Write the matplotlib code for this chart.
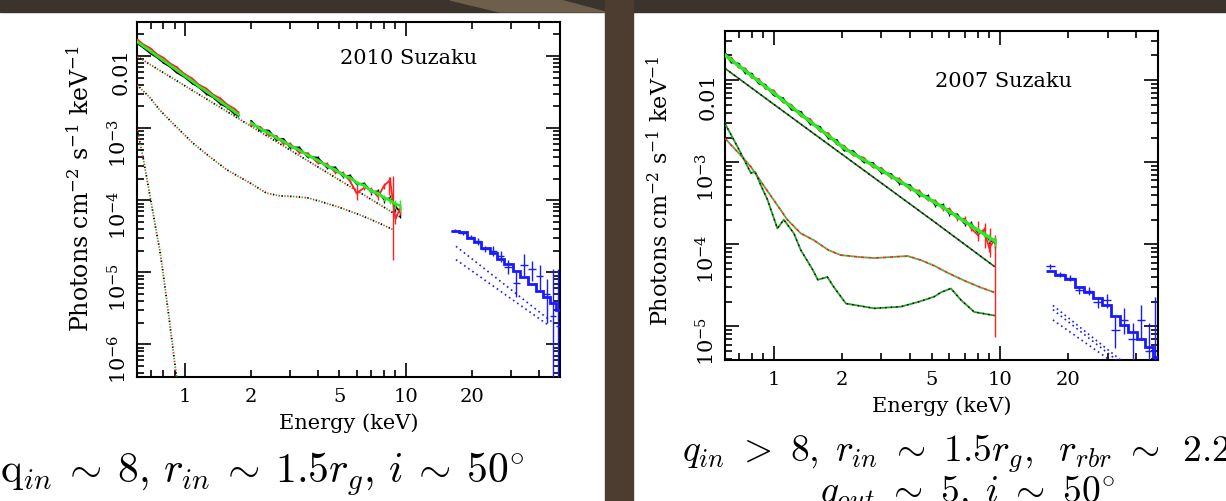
import matplotlib.pyplot as plt
from matplotlib.patches import Rectangle, Polygon
from matplotlib.ticker import FixedLocator, FuncFormatter, NullFormatter, LogLocator
import numpy as np

plt.rcParams['font.family'] = ['DejaVu Serif']
plt.rcParams['mathtext.fontset'] = 'dejavuserif'

W, H = 1226, 501

RED = '#ff2020'
GREEN = '#22ee22'
BLUE = '#1a1aff'

# ---------------- 2010 Suzaku (left) ----------------
e10_lo = [0.61, 0.65, 0.70, 0.75, 0.80, 0.86, 0.92, 1.00, 1.08, 1.16, 1.25, 1.35, 1.45, 1.56, 1.68, 1.75]
g10_lo = [0.0158, 0.0137, 0.0117, 0.0100, 0.0087, 0.0074, 0.0064, 0.0053, 0.0045, 0.0038, 0.00326, 0.00275,
          0.00235, 0.00200, 0.00170, 0.00155]
r10_lo = [0.0170, 0.0145, 0.0128, 0.0106, 0.0095, 0.0079, 0.0070, 0.0056, 0.0049, 0.0040, 0.00356, 0.00290,
          0.00258, 0.00212, 0.00186, 0.00166]
k10_lo = [0.0150, 0.0131, 0.0109, 0.0096, 0.0081, 0.0071, 0.0059, 0.0051, 0.0042, 0.0037, 0.00302, 0.00266,
          0.00218, 0.00194, 0.00158, 0.00150]
err10_lo = [0.02, 0.02, 0.02, 0.02, 0.02, 0.02, 0.025, 0.025, 0.025, 0.03, 0.03, 0.03, 0.035, 0.035, 0.04, 0.04]

e10_hi = [2.0, 2.2, 2.4, 2.6, 2.8, 3.0, 3.3, 3.6, 4.0, 4.4, 4.8, 5.2, 5.6, 6.0, 6.5, 7.0, 7.5, 8.0, 8.5, 9.0, 9.4]
g10_hi = [1.18e-3, 9.8e-4, 8.6e-4, 7.3e-4, 6.6e-4, 5.7e-4, 5.0e-4, 4.2e-4, 3.6e-4, 3.0e-4, 2.65e-4, 2.25e-4,
          2.05e-4, 1.75e-4, 1.60e-4, 1.35e-4, 1.25e-4, 1.08e-4, 1.0e-4, 8.8e-5, 8.5e-5]
k10_hi = [1.26e-3, 9.3e-4, 9.3e-4, 6.9e-4, 7.1e-4, 5.4e-4, 5.4e-4, 4.0e-4, 3.9e-4, 2.85e-4, 2.85e-4, 2.15e-4,
          2.2e-4, 1.68e-4, 1.70e-4, 1.30e-4, 1.33e-4, 1.02e-4, 1.07e-4, 8.2e-5, 7.0e-5]
r10_hi = [1.10e-3, 1.04e-3, 8.0e-4, 7.8e-4, 6.1e-4, 6.1e-4, 4.6e-4, 4.5e-4, 3.3e-4, 3.2e-4, 2.45e-4, 2.4e-4,
          1.85e-4, 1.25e-4, 1.5e-4, 1.42e-4, 1.12e-4, 1.6e-4, 1.9e-4, 5.5e-5, 7.5e-5]
err10_hi = [0.03, 0.03, 0.03, 0.035, 0.035, 0.04, 0.04, 0.045, 0.045, 0.05, 0.05, 0.055, 0.06, 0.065, 0.07,
            0.08, 0.09, 0.10, 0.12, 0.15, 0.18]
spike10_e = [6.0, 8.4, 8.8]
spike10_lo = [1.0e-4, 1.2e-4, 1.5e-5]
spike10_hi = [1.6e-4, 2.1e-4, 2.2e-4]

pl10_e = [0.61, 1.0, 2.0, 5.0, 9.4]
pl10_f = [9.8e-3, 3.89e-3, 1.06e-3, 1.92e-4, 5.9e-5]
refl10_e = [0.61, 0.70, 0.77, 0.9, 1.09, 1.3, 1.55, 2.0, 2.34, 2.7, 3.09, 3.6, 4.08, 5.0, 6.19, 7.5, 8.8]
refl10_f = [3.97e-3, 2.6e-3, 1.79e-3, 1.1e-3, 6.2e-4, 4.0e-4, 2.65e-4, 1.7e-4, 1.26e-4, 1.15e-4, 1.13e-4,
            1.08e-4, 9.7e-5, 8.0e-5, 6.3e-5, 4.9e-5, 3.9e-5]
bb10_e = [0.61, 0.65, 0.70, 0.75, 0.77, 0.80, 0.85, 0.90, 0.93]
bb10_f = [9.5e-4, 3.7e-4, 1.05e-4, 3.2e-5, 2.1e-5, 9.3e-6, 2.3e-6, 5.7e-7, 2.7e-7]

pin10_edges = [16, 17.5, 19, 20.5, 22, 24, 26, 28, 30.5, 33, 36, 39, 42, 45, 48, 50]
pin10_model = [3.7e-5, 3.6e-5, 3.0e-5, 2.6e-5, 2.2e-5, 1.85e-5, 1.55e-5, 1.3e-5, 1.05e-5, 8.5e-6, 6.8e-6,
               5.6e-6, 4.6e-6, 3.7e-6, 3.0e-6]
pin10_data = [3.8e-5, 3.5e-5, 3.1e-5, 2.7e-5, 2.1e-5, 2.0e-5, 1.7e-5, 1.2e-5, 7.2e-6, 1.25e-5, 1.1e-5,
              9.0e-6, 5.0e-6, 2.5e-6, 1.8e-6]
pin10_low = [3.6e-5, 3.3e-5, 2.9e-5, 2.4e-5, 1.9e-5, 1.7e-5, 1.4e-5, 9.5e-6, 4.5e-6, 9.0e-6, 7.5e-6,
             5.5e-6, 2.0e-6, 1e-8, 1e-8]
pin10_high = [4.0e-5, 3.7e-5, 3.3e-5, 3.0e-5, 2.3e-5, 2.3e-5, 2.0e-5, 1.5e-5, 1.0e-5, 1.8e-5, 1.45e-5,
              1.25e-5, 8.0e-6, 1.1e-5, 1.1e-5]
pinmod10_e = [[16.9, 46.5], [16.9, 44.9]]
pinmod10_f = [[2.3e-5, 2.0e-6], [1.5e-5, 1.8e-6]]

# ---------------- 2007 Suzaku (right) ----------------
e07 = [0.61, 0.65, 0.70, 0.75, 0.80, 0.86, 0.92, 1.0, 1.1, 1.2, 1.32, 1.45, 1.6, 1.75, 1.9, 2.05, 2.25, 2.5,
       2.75, 3.0, 3.3, 3.6, 4.0, 4.4, 4.8, 5.2, 5.6, 6.0, 6.5, 7.0, 7.5, 8.0, 8.5, 9.0, 9.5]
g07 = [0.0202, 0.0176, 0.0150, 0.0130, 0.0113, 0.00966, 0.00834, 0.00699, 0.00568, 0.00472, 0.00384, 0.00314,
       0.00254, 0.00209, 0.00175, 0.00149, 1.28e-3, 1.07e-3, 9.2e-4, 7.95e-4, 6.8e-4, 5.9e-4, 4.95e-4, 4.2e-4,
       3.66e-4, 3.2e-4, 2.84e-4, 2.51e-4, 2.17e-4, 1.90e-4, 1.68e-4, 1.49e-4, 1.34e-4, 1.21e-4, 1.10e-4]
k07 = [0.0214, 0.0165, 0.0159, 0.0122, 0.0120, 0.0091, 0.0088, 0.0066, 0.0060, 0.0044, 0.0041, 0.00295,
       0.0027, 0.00196, 0.00186, 0.00140, 1.36e-3, 1.01e-3, 9.75e-4, 7.5e-4, 7.2e-4, 5.55e-4, 5.25e-4, 3.95e-4,
       3.88e-4, 3.0e-4, 3.0e-4, 2.36e-4, 2.3e-4, 1.79e-4, 1.78e-4, 1.40e-4, 1.42e-4, 1.14e-4, 1.05e-4]
r07 = [0.0192, 0.0188, 0.0143, 0.0139, 0.0107, 0.0103, 0.0079, 0.0075, 0.0054, 0.0050, 0.00365, 0.00336,
       0.00241, 0.00224, 0.00166, 0.00159, 1.22e-3, 1.14e-3, 8.7e-4, 8.5e-4, 6.5e-4, 6.3e-4, 4.7e-4, 4.5e-4,
       3.5e-4, 3.4e-4, 2.7e-4, 2.7e-4, 2.05e-4, 2.05e-4, 1.55e-4, 1.3e-4, 1.5e-4, 9.0e-5, 1.15e-4]
err07 = [0.02, 0.02, 0.02, 0.02, 0.02, 0.02, 0.02, 0.02, 0.025, 0.025, 0.025, 0.025, 0.025, 0.03, 0.03, 0.03,
         0.03, 0.03, 0.035, 0.035, 0.035, 0.04, 0.04, 0.045, 0.045, 0.05, 0.05, 0.055, 0.06, 0.065, 0.07,
         0.08, 0.09, 0.11, 0.13]
spike07_e = [8.0, 8.6, 9.1, 9.5]
spike07_lo = [1.1e-4, 9.0e-5, 7.0e-5, 7.4e-6]
spike07_hi = [1.9e-4, 1.8e-4, 1.6e-4, 1.2e-4]

pl07_e = [0.61, 1.0, 2.0, 5.0, 9.46]
pl07_f = [1.39e-2, 5.1e-3, 1.26e-3, 1.99e-4, 5.4e-5]
refl07a_e = [0.61, 0.70, 0.794, 0.9, 1.0, 1.15, 1.32, 1.51, 1.75, 1.98, 2.4, 2.79, 3.3, 3.92, 4.5, 5.2, 5.89,
             7.0, 8.2, 9.46]
refl07a_f = [1.95e-3, 1.3e-3, 8.8e-4, 5.3e-4, 3.5e-4, 2.0e-4, 1.36e-4, 1.12e-4, 8.5e-5, 7.4e-5, 7.0e-5,
             6.8e-5, 7.0e-5, 7.2e-5, 6.4e-5, 5.4e-5, 4.5e-5, 3.6e-5, 3.0e-5, 2.6e-5]
refl07b_e = [0.61, 0.693, 0.794, 0.83, 0.88, 0.94, 1.04, 1.11, 1.23, 1.32, 1.49, 1.57, 1.73, 1.85, 2.09,
             2.79, 3.66, 4.4, 5.13, 5.5, 6.09, 6.74, 7.72, 9.46]
refl07b_f = [2.96e-3, 1.54e-3, 7.4e-4, 7.6e-4, 5.2e-4, 3.5e-4, 1.56e-4, 2.0e-4, 1.36e-4, 8.5e-5, 4.9e-5,
             3.7e-5, 4.0e-5, 3.0e-5, 1.9e-5, 1.66e-5, 1.74e-5, 2.0e-5, 2.3e-5, 2.6e-5, 2.9e-5, 2.1e-5,
             1.5e-5, 1.36e-5]

pin07_edges = [16, 17.5, 19.5, 21.5, 23.5, 26, 28.5, 31, 34, 37, 40.5, 44, 47.5, 50]
pin07_model = [4.7e-5, 4.2e-5, 3.8e-5, 3.0e-5, 2.6e-5, 2.2e-5, 1.8e-5, 1.35e-5, 1.05e-5, 8.6e-6, 7.0e-6,
               5.6e-6, 4.3e-6]
pin07_data = [5.4e-5, 4.3e-5, 3.9e-5, 2.8e-5, 2.7e-5, 2.0e-5, 2.1e-5, 9.0e-6, 1.2e-5, 7.0e-6, 1.2e-5,
              5.0e-6, 3.5e-6]
pin07_low = [5.0e-5, 4.0e-5, 3.6e-5, 2.5e-5, 2.4e-5, 1.7e-5, 1.7e-5, 5.5e-6, 8.0e-6, 3.5e-6, 7.0e-6,
             1e-8, 1e-8]
pin07_high = [5.8e-5, 4.6e-5, 4.2e-5, 3.1e-5, 3.0e-5, 2.3e-5, 2.5e-5, 1.3e-5, 1.7e-5, 1.1e-5, 1.8e-5,
              1.1e-5, 2.3e-5]
pinmod07_e = [[17.2, 36.0], [17.2, 36.0], [17.2, 32.0]]
pinmod07_f = [[1.8e-5, 3.5e-6], [1.6e-5, 3.2e-6], [1.2e-5, 3.6e-6]]


def ylab(v, pos):
    if abs(v - 0.01) < 1e-9:
        return '0.01'
    return r'$10^{%d}$' % int(round(np.log10(v)))


def style_axes(ax, ylim, ydec):
    ax.set_xscale('log')
    ax.set_yscale('log')
    ax.set_xlim(0.61, 50)
    ax.set_ylim(*ylim)
    ax.xaxis.set_major_locator(FixedLocator([1, 10]))
    ax.xaxis.set_minor_locator(FixedLocator([0.7, 0.8, 0.9, 2, 3, 4, 5, 6, 7, 8, 9, 20, 30, 40]))
    ax.xaxis.set_major_formatter(FuncFormatter(lambda v, p: '%g' % v))
    ax.xaxis.set_minor_formatter(FuncFormatter(lambda v, p: '%g' % v if v in (2, 5, 20) else ''))
    ax.yaxis.set_major_locator(FixedLocator(ydec))
    ax.yaxis.set_minor_locator(LogLocator(base=10, subs=np.arange(2, 10)))
    ax.yaxis.set_major_formatter(FuncFormatter(ylab))
    ax.yaxis.set_minor_formatter(NullFormatter())
    ax.tick_params(which='both', direction='in', top=True, right=True, width=1.2, colors='black')
    ax.tick_params(which='major', length=10)
    ax.tick_params(which='minor', length=5)
    ax.tick_params(axis='x', which='both', pad=8, labelsize=14)
    ax.tick_params(axis='y', which='both', pad=5, labelsize=15, labelrotation=90)
    for s in ax.spines.values():
        s.set_linewidth(1.5)
    ax.set_xlabel('Energy (keV)', fontsize=15, labelpad=5)


def dotted_model(ax, e, f, lw=1.3):
    for i, c in enumerate([RED, '#1fbf1f', 'black']):
        ax.plot(e, f, color=c, lw=lw, linestyle=(i * 1.6, (0.8, 4.0)), zorder=3)


def xis(ax, e, f, rel, color, lw, z):
    f = np.array(f)
    err = np.array(rel) * f
    ax.errorbar(e, f, yerr=err, color=color, ecolor=color, lw=lw, elinewidth=1.0, zorder=z)


def pin(ax, edges, model, data, low, high, mod_e, mod_f):
    ax.stairs(model, edges, baseline=None, color=BLUE, lw=2.0, zorder=4)
    edges = np.array(edges)
    cen = np.sqrt(edges[:-1] * edges[1:])
    data = np.array(data)
    ax.errorbar(cen, data, xerr=[cen - edges[:-1], edges[1:] - cen],
                yerr=[data - np.array(low), np.array(high) - data],
                fmt='none', ecolor=BLUE, elinewidth=1.0, zorder=4)
    for e, f in zip(mod_e, mod_f):
        ax.plot(e, f, color=BLUE, lw=1.2, linestyle=(0, (1.0, 2.0)), zorder=3)


fig = plt.figure(figsize=(W / 100, H / 100), dpi=100)
fig.patch.set_facecolor('white')

# slide background pieces
fig.add_artist(Rectangle((0, 1 - 12 / H), 1, 12 / H, transform=fig.transFigure,
                         color='#3b342d', zorder=0))
fig.add_artist(Polygon([(450 / W, 1), (560 / W, 1), (605 / W, 1 - 12 / H), (500 / W, 1 - 12 / H)],
                       closed=True, transform=fig.transFigure, color='#6e5e4c', zorder=0))
fig.add_artist(Rectangle((605 / W, 0), 28 / W, 1, transform=fig.transFigure,
                         color='#4c3d30', zorder=0))

# ---- left panel ----
ax1 = fig.add_axes([137.3 / W, 1 - 377.3 / H, 422.7 / W, 355.6 / H])
style_axes(ax1, (3.5e-7, 0.03), [1e-6, 1e-5, 1e-4, 1e-3, 1e-2])
dotted_model(ax1, pl10_e, pl10_f)
dotted_model(ax1, refl10_e, refl10_f)
dotted_model(ax1, bb10_e, bb10_f)
for e, fk, fr, fg, rel in [(e10_lo, k10_lo, r10_lo, g10_lo, err10_lo), (e10_hi, k10_hi, r10_hi, g10_hi, err10_hi)]:
    xis(ax1, e, fk, rel, 'black', 1.3, 5)
    xis(ax1, e, fr, rel, RED, 1.3, 6)
    xis(ax1, e, fg, rel, GREEN, 2.0, 7)
ax1.vlines(spike10_e, spike10_lo, spike10_hi, color=RED, lw=1.0, zorder=6)
pin(ax1, pin10_edges, pin10_model, pin10_data, pin10_low, pin10_high, pinmod10_e, pinmod10_f)
ax1.text(0.803, 0.897, '2010 Suzaku', transform=ax1.transAxes, ha='right', va='center', fontsize=15)

# ---- right panel ----
ax2 = fig.add_axes([725 / W, 1 - 360 / H, 432.7 / W, 329.3 / H])
style_axes(ax2, (3.9e-6, 0.04), [1e-5, 1e-4, 1e-3, 1e-2])
ax2.plot(pl07_e, pl07_f, color='#1f6a1f', lw=1.2, zorder=3)
ax2.plot(pl07_e, pl07_f, color='black', lw=1.0, linestyle=(0, (1, 3)), zorder=3)
ax2.plot(refl07a_e, refl07a_f, color=RED, lw=1.3, linestyle=(0, (2, 2)), zorder=3)
ax2.plot(refl07a_e, refl07a_f, color='#33bb33', lw=1.3, linestyle=(2, (2, 2)), zorder=3)
ax2.plot(refl07b_e, refl07b_f, color='#2a9a2a', lw=1.3, zorder=3)
ax2.plot(refl07b_e, refl07b_f, color='black', lw=1.0, linestyle=(0, (1, 3)), zorder=3)
xis(ax2, e07, k07, err07, 'black', 1.3, 5)
xis(ax2, e07, r07, err07, RED, 1.3, 6)
xis(ax2, e07, g07, err07, GREEN, 2.4, 7)
ax2.vlines(spike07_e, spike07_lo, spike07_hi, color=RED, lw=1.0, zorder=6)
pin(ax2, pin07_edges, pin07_model, pin07_data, pin07_low, pin07_high, pinmod07_e, pinmod07_f)
ax2.text(0.801, 0.845, '2007 Suzaku', transform=ax2.transAxes, ha='right', va='center', fontsize=15)

ylabel = r'Photons cm$^{-2}$ s$^{-1}$ keV$^{-1}$'
fig.text(80 / W, 1 - 189 / H, ylabel, rotation=90, ha='center', va='center', fontsize=17)
fig.text(660 / W, 1 - 191 / H, ylabel, rotation=90, ha='center', va='center', fontsize=16)

# slide formulas
fig.text(0.0, 1 - 483 / H,
         r'$\mathrm{q}_{in} \:\sim\: 8,\, r_{in} \:\sim\: 1.5r_g,\, i \:\sim\: 50^{\circ}$',
         fontsize=30, math_fontfamily='cm', ha='left', va='baseline')
fig.text(681.7 / W, 1 - 461.7 / H,
         r'$q_{in} \ >\ 8,\; r_{in} \ \sim\ 1.5r_g,\;\; r_{rbr} \ \sim\ \, 2.2r_g,$',
         fontsize=27, math_fontfamily='cm', ha='left', va='baseline')
fig.text(820 / W, 1 - 502 / H, r'$q_{out} \ \sim\ 5,\; i \ \sim\ 50^{\circ}$',
         fontsize=27, math_fontfamily='cm', ha='left', va='baseline')

fig.savefig('out.png', dpi=100, facecolor=fig.get_facecolor())
